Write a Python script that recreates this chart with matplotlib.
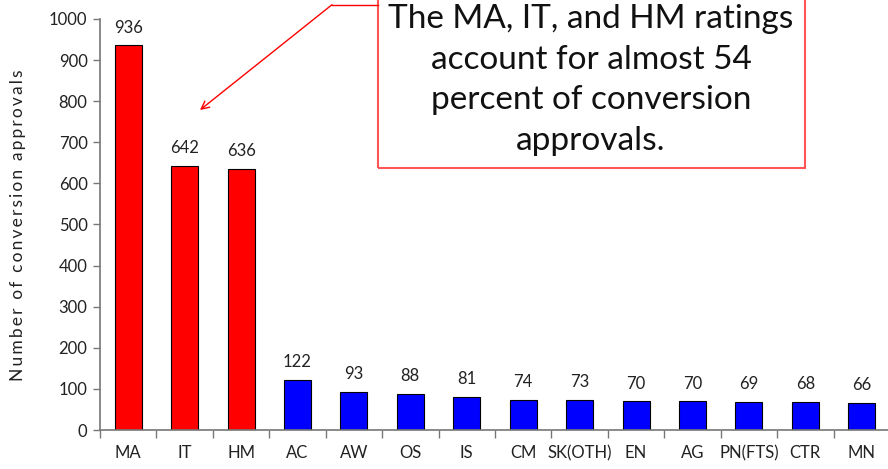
import matplotlib.pyplot as plt
from matplotlib.patches import Rectangle, FancyArrowPatch
from matplotlib.lines import Line2D

categories = ['MA', 'IT', 'HM', 'AC', 'AW', 'OS', 'IS', 'CM', 'SK(OTH)',
              'EN', 'AG', 'PN(FTS)', 'CTR', 'MN']
approvals = [936, 642, 636, 122, 93, 88, 81, 74, 73, 70, 70, 69, 68, 66]
highlight = ['MA', 'IT', 'HM']
note = ("The MA, IT, and HM ratings\naccount for almost 54\n"
        "percent of conversion\napprovals.")
ylabel = 'Number of conversion approvals'

plt.rcParams['font.family'] = ['Lato', 'DejaVu Sans']

W, H = 888, 469
fig = plt.figure(figsize=(W / 100, H / 100), dpi=100)
ax = fig.add_axes([100 / W, 1 - 430 / H, 790 / W, 411 / H])

colors = ['#ff0000' if c in highlight else '#0000ff' for c in categories]
x = range(len(categories))
ax.bar(x, approvals, width=0.48, color=colors, edgecolor='black', linewidth=0.8)

for xi, v in zip(x, approvals):
    ax.annotate(str(v), (xi, v), xytext=(0, 7), textcoords='offset points',
                ha='center', va='bottom', fontsize=12, color='#222222')

ax.set_xlim(-0.5, len(categories) - 0.5)
ax.set_ylim(0, 1000)
ax.set_yticks(range(0, 1001, 100))
ax.set_xticks(list(x))
ax.set_xticklabels(categories)
ax.set_xticks([i - 0.5 for i in range(len(categories) + 1)], minor=True)
ax.tick_params(axis='x', which='major', length=0, pad=11, labelsize=12, labelcolor='#222222')
ax.tick_params(axis='x', which='minor', length=6, width=1, color='#777777', direction='out')
ax.tick_params(axis='y', length=5, width=1, color='#777777', labelsize=12, labelcolor='#222222', pad=4)

for s in ['top', 'right']:
    ax.spines[s].set_visible(False)
for s in ['left', 'bottom']:
    ax.spines[s].set_color('#777777')
    ax.spines[s].set_linewidth(1.2)

# letter-spaced axis title
fig.text(18 / W, 1 - 225 / H, '\u2009'.join(ylabel),
         rotation=90, ha='center', va='center', fontsize=12.5, color='#222222')

# callout box
box = Rectangle((378 / W, 1 - 168 / H), (805 - 378) / W, 168 / H + 0.05,
                transform=fig.transFigure, fill=False, edgecolor='#ff5555', linewidth=1.5,
                clip_on=False)
fig.add_artist(box)
fig.text(591 / W, 1 - 80 / H, note, ha='center', va='center', fontsize=24,
         linespacing=1.45, color='#111111')

# arrow from box to the bars
fig.add_artist(Line2D([378 / W, 332 / W], [1 - 4.7 / H, 1 - 4.7 / H],
                      transform=fig.transFigure, color='#ff0000', linewidth=1))
arrow = FancyArrowPatch((332 / W, 1 - 4.7 / H), (200 / W, 1 - 110 / H),
                        transform=fig.transFigure, arrowstyle='->', mutation_scale=14,
                        color='#ff0000', linewidth=1, shrinkA=0, shrinkB=0)
fig.add_artist(arrow)

fig.savefig('out.png', dpi=100)
